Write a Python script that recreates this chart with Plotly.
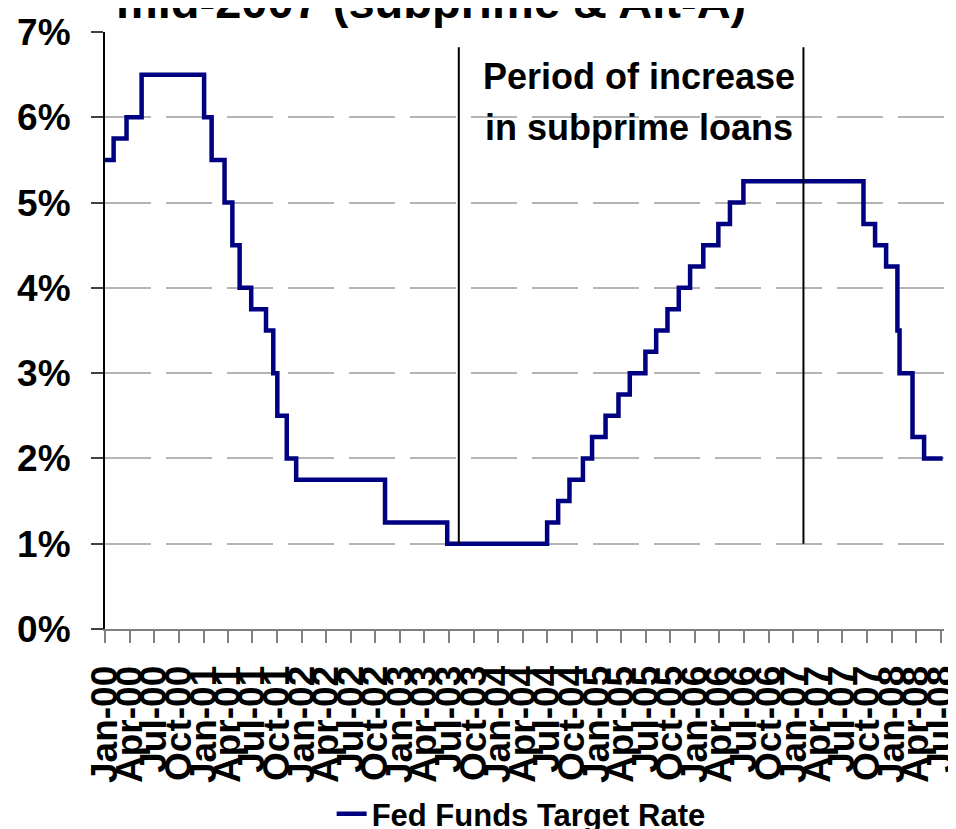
import pandas as pd
import plotly.graph_objects as go

# Fed funds target rate: change dates and new levels (%)
change_dates = ['2000-01-01', '2000-02-02', '2000-03-21', '2000-05-16', '2001-01-03', '2001-01-31',
                '2001-03-20', '2001-04-18', '2001-05-15', '2001-06-27', '2001-08-21', '2001-09-17',
                '2001-10-02', '2001-11-06', '2001-12-11', '2002-11-06', '2003-06-25', '2004-06-30',
                '2004-08-10', '2004-09-21', '2004-11-10', '2004-12-14', '2005-02-02', '2005-03-22',
                '2005-05-03', '2005-06-30', '2005-08-09', '2005-09-20', '2005-11-01', '2005-12-13',
                '2006-01-31', '2006-03-28', '2006-05-10', '2006-06-29', '2007-09-18', '2007-10-31',
                '2007-12-11', '2008-01-22', '2008-01-30', '2008-03-18', '2008-04-30', '2008-07-08']
target_rate = [5.50, 5.75, 6.00, 6.50, 6.00, 5.50,
               5.00, 4.50, 4.00, 3.75, 3.50, 3.00,
               2.50, 2.00, 1.75, 1.25, 1.00, 1.25,
               1.50, 1.75, 2.00, 2.25, 2.50, 2.75,
               3.00, 3.25, 3.50, 3.75, 4.00, 4.25,
               4.50, 4.75, 5.00, 5.25, 4.75, 4.50,
               4.25, 3.50, 3.00, 2.25, 2.00, 2.00]

tick_labels = ['Jan-00', 'Apr-00', 'Jul-00', 'Oct-00', 'Jan-01', 'Apr-01', 'Jul-01', 'Oct-01',
               'Jan-02', 'Apr-02', 'Jul-02', 'Oct-02', 'Jan-03', 'Apr-03', 'Jul-03', 'Oct-03',
               'Jan-04', 'Apr-04', 'Jul-04', 'Oct-04', 'Jan-05', 'Apr-05', 'Jul-05', 'Oct-05',
               'Jan-06', 'Apr-06', 'Jul-06', 'Oct-06', 'Jan-07', 'Apr-07', 'Jul-07', 'Oct-07',
               'Jan-08', 'Apr-08', 'Jul-08']
tick_dates = [pd.to_datetime(t, format='%b-%y') for t in tick_labels]

period_start = '2003-08-07'
period_end = '2007-02-07'
period_low, period_high = 1.0, 6.82

series_name = 'Fed Funds Target Rate'
title_text = 'mid-2007 (subprime & Alt-A)'
note_lines = ['Period of increase', 'in subprime loans']

FONT = 'Liberation Sans, Arial, sans-serif'

fig = go.Figure()
fig.add_trace(go.Scatter(
    x=pd.to_datetime(change_dates), y=target_rate, mode='lines', line_shape='hv',
    line=dict(color='#000080', width=4.5), name=series_name, showlegend=True))

for xd in (period_start, period_end):
    fig.add_shape(type='line', xref='x', yref='y', x0=xd, x1=xd, y0=period_low, y1=period_high,
                  line=dict(color='black', width=2))

fig.add_annotation(xref='paper', yref='paper', x=0.636, y=0.9635, text=note_lines[0],
                   showarrow=False, font=dict(family=FONT, size=36, color='black', weight='bold'))
fig.add_annotation(xref='paper', yref='paper', x=0.636, y=0.8785, text=note_lines[1],
                   showarrow=False, font=dict(family=FONT, size=36, color='black', weight='bold'))

fig.add_annotation(xref='paper', yref='paper', x=0.389, y=1.003, yanchor='bottom', text=title_text,
                   showarrow=False, font=dict(family=FONT, size=47, color='black', weight='bold'))

fig.update_layout(
    width=948, height=821,
    margin=dict(l=97, r=12, t=24, b=200, autoexpand=False),
    paper_bgcolor='white', plot_bgcolor='white',
    showlegend=True,
    legend=dict(orientation='h', x=0.496, xanchor='center', yref='container', y=0.018,
                yanchor='middle', font=dict(family=FONT, size=31, color='black', weight='bold')),
    font=dict(family=FONT, color='black'),
)
fig.update_xaxes(
    type='date', range=['2000-01-01', '2008-07-13'], automargin=False,
    tickmode='array', tickvals=tick_dates, ticktext=tick_labels, tickangle=-90,
    ticklabeloverflow='allow', ticklabelstandoff=8,
    tickfont=dict(family=FONT, size=37, color='black', weight='bold'),
    ticks='outside', ticklen=12, tickcolor='#808080', tickwidth=2,
    showline=True, linecolor='#808080', linewidth=2, showgrid=False, zeroline=False,
)
fig.update_yaxes(
    range=[0, 7], tickmode='linear', tick0=0, dtick=1, ticksuffix='%', automargin=False,
    tickfont=dict(family=FONT, size=37, color='black', weight='bold'),
    ticks='outside', ticklen=12, tickcolor='#404040', tickwidth=2, ticklabelstandoff=13,
    showline=True, linecolor='black', linewidth=2,
    showgrid=True, gridcolor='#b4b4b4', gridwidth=2, griddash='46px,15px', zeroline=False,
)

fig.write_html('out.html')
